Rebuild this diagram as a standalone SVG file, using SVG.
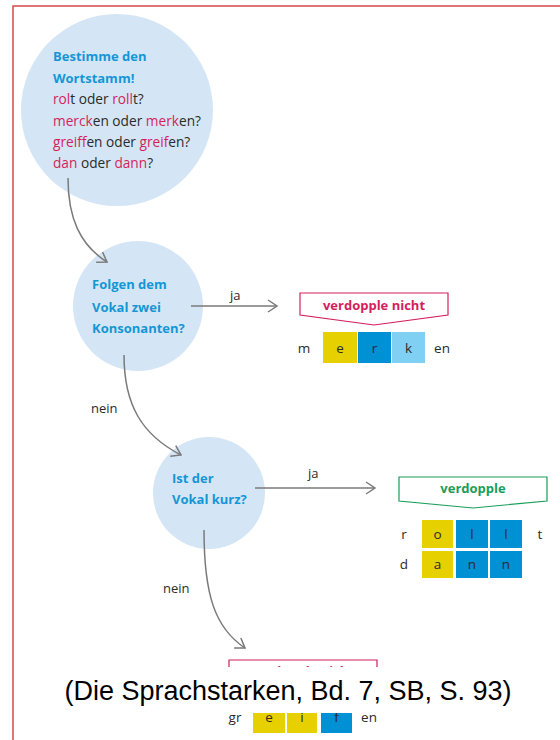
<svg xmlns="http://www.w3.org/2000/svg" width="560" height="740" viewBox="0 0 560 740">
<style>
.c{fill:#d4e6f5}
.q{font-family:"Open Sans","Noto Sans",sans-serif;font-size:13px;font-weight:bold;fill:#1496d6}
.t{font-family:"Open Sans","Noto Sans",sans-serif;font-size:13.7px;fill:#2a2a2a}
.r{fill:#d41e5a}
.s{font-family:"Open Sans","Noto Sans",sans-serif;font-size:13px;fill:#2a2a2a}
.cl{font-family:"Open Sans","Noto Sans",sans-serif;font-size:13.5px;fill:#2a2a2a;text-anchor:middle}
.ln{fill:none;stroke:#7a7a7a;stroke-width:1.5}
.y{fill:#e6d000}
.b{fill:#0090d4}
.lb{fill:#80d0f4}
.bx{font-family:"Open Sans","Noto Sans",sans-serif;font-size:13px;font-weight:bold;text-anchor:middle}
</style>
<defs>
<marker id="ah" markerUnits="userSpaceOnUse" markerWidth="20" markerHeight="20" refX="0" refY="0" viewBox="-12 -10 14 20" orient="auto">
<path d="M-9,-6 L0,0 L-9,6" fill="none" stroke="#7a7a7a" stroke-width="1.5"/>
</marker>
</defs>
<rect x="13" y="6" width="560" height="750" fill="#fff" stroke="#d6484a" stroke-width="1.5"/>

<g id="node-wortstamm">
<circle class="c" cx="117" cy="110" r="96"/>
<text class="q" x="53" y="61">Bestimme den</text>
<text class="q" x="53" y="83">Wortstamm!</text>
<text class="t" x="53" y="104"><tspan class="r">rol</tspan>t oder <tspan class="r">roll</tspan>t?</text>
<text class="t" x="53" y="126"><tspan class="r">merck</tspan>en oder <tspan class="r">merk</tspan>en?</text>
<text class="t" x="53" y="147"><tspan class="r">greiff</tspan>en oder <tspan class="r">greif</tspan>en?</text>
<text class="t" x="53" y="168"><tspan class="r">dan</tspan> oder <tspan class="r">dann</tspan>?</text>
</g>

<g id="node-konsonanten">
<circle class="c" cx="138" cy="306" r="65"/>
<text class="q" x="92" y="289">Folgen dem</text>
<text class="q" x="92" y="312">Vokal zwei</text>
<text class="q" x="92" y="333">Konsonanten?</text>
</g>

<g id="node-kurz">
<circle class="c" cx="209" cy="493" r="56"/>
<text class="q" x="172" y="483">Ist der</text>
<text class="q" x="172" y="504">Vokal kurz?</text>
</g>

<g id="connectors">
<path class="ln" d="M68,178 C68,218 80,245 107,262" marker-end="url(#ah)"/>
<path class="ln" d="M191,306 H277" marker-end="url(#ah)"/>
<text class="s" x="230" y="300">ja</text>
<path class="ln" d="M124,355 C124,405 142,435 181,455" marker-end="url(#ah)"/>
<text class="s" x="91" y="413">nein</text>
<path class="ln" d="M255,488 H375" marker-end="url(#ah)"/>
<text class="s" x="308" y="478">ja</text>
<path class="ln" d="M204,530 C204,595 215,628 245,648" marker-end="url(#ah)"/>
<text class="s" x="163" y="593">nein</text>
</g>

<g id="node-verdopple-nicht">
<path d="M300,293 H448 V315 L374,325 L300,315 Z" fill="#fff" stroke="#d41e5a" stroke-width="1.2"/>
<text class="bx r" x="374" y="310">verdopple nicht</text>
<text class="cl" x="304" y="353">m</text>
<rect class="y" x="323" y="332" width="34" height="31"/>
<rect class="b" x="358" y="332" width="33" height="31"/>
<rect class="lb" x="392" y="332" width="33" height="31"/>
<text class="cl" x="340" y="353">e</text>
<text class="cl" x="374.5" y="353">r</text>
<text class="cl" x="408.5" y="353">k</text>
<text class="cl" x="442" y="353">en</text>
</g>

<g id="node-verdopple">
<path d="M399,477 H547 V501 L473,508 L399,501 Z" fill="#fff" stroke="#1a9e5a" stroke-width="1.2"/>
<text class="bx" x="473" y="493" fill="#1a9e5a">verdopple</text>
<text class="cl" x="404" y="539">r</text>
<rect class="y" x="422" y="520" width="31" height="28"/>
<rect class="b" x="456" y="520" width="32" height="28"/>
<rect class="b" x="490" y="520" width="32" height="28"/>
<text class="cl" x="437.5" y="539">o</text>
<text class="cl" x="472" y="539">l</text>
<text class="cl" x="506" y="539">l</text>
<text class="cl" x="540" y="539">t</text>
<text class="cl" x="404" y="569">d</text>
<rect class="y" x="422" y="551" width="31" height="27"/>
<rect class="b" x="456" y="551" width="32" height="27"/>
<rect class="b" x="490" y="551" width="32" height="27"/>
<text class="cl" x="437.5" y="569">a</text>
<text class="cl" x="472" y="569">n</text>
<text class="cl" x="506" y="569">n</text>
</g>

<g id="node-verdopple-nicht-2">
<path d="M229,660 H377 V682 L303,692 L229,682 Z" fill="#fff" stroke="#d41e5a" stroke-width="1.2"/>
<text class="bx r" x="303" y="676">verdopple nicht</text>
<text class="cl" x="235" y="722">gr</text>
<rect class="y" x="253" y="702" width="32" height="31"/>
<rect class="y" x="287" y="702" width="30" height="31"/>
<rect class="b" x="321" y="702" width="31" height="31"/>
<text class="cl" x="269" y="722">e</text>
<text class="cl" x="302" y="722">i</text>
<text class="cl" x="336.5" y="722">f</text>
<text class="cl" x="369" y="722">en</text>
</g>

<rect x="14.5" y="667" width="546" height="46" fill="#fff"/>
<text x="288" y="700" font-family="'Liberation Sans',Arial,sans-serif" font-size="27" text-anchor="middle" fill="#000">(Die Sprachstarken, Bd. 7, SB, S. 93)</text>
</svg>
